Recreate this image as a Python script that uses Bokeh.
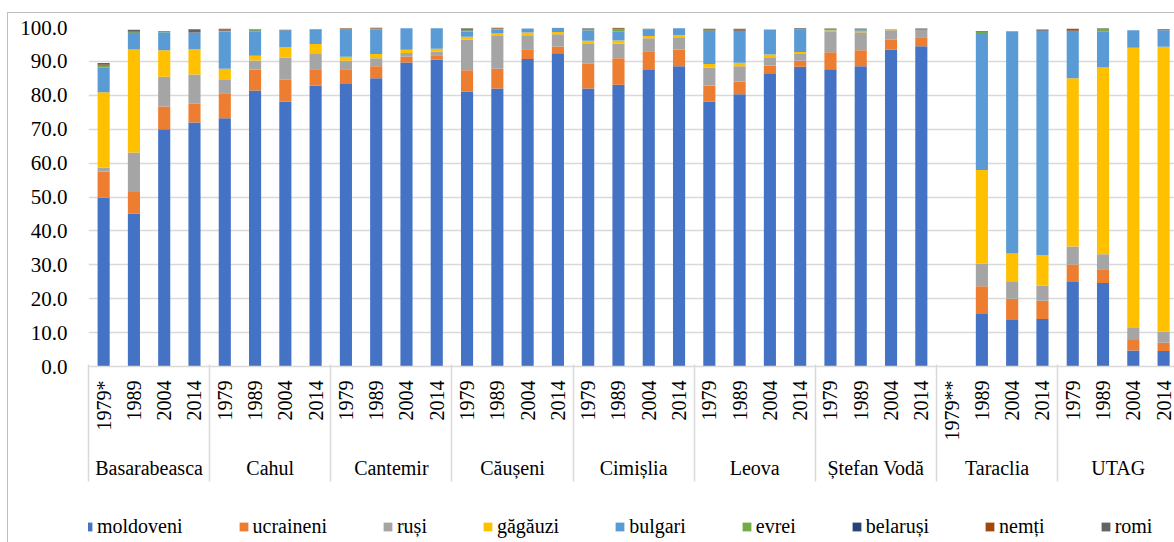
import math
from bokeh.plotting import figure
from bokeh.layouts import column
from bokeh.models import (ColumnDataSource, Range1d, FixedTicker, LinearAxis,
                          Legend, LegendItem, NumeralTickFormatter)
from bokeh.embed import file_html
from bokeh.resources import INLINE

districts = ["Basarabeasca", "Cahul", "Cantemir", "Căușeni", "Cimișlia",
             "Leova", "Ștefan Vodă", "Taraclia", "UTAG"]
years = [
    ["1979*", "1989", "2004", "2014"],
    ["1979", "1989", "2004", "2014"],
    ["1979", "1989", "2004", "2014"],
    ["1979", "1989", "2004", "2014"],
    ["1979", "1989", "2004", "2014"],
    ["1979", "1989", "2004", "2014"],
    ["1979", "1989", "2004", "2014"],
    ["1979**", "1989", "2004", "2014"],
    ["1979", "1989", "2004", "2014"],
]

series_names = ["moldoveni", "ucraineni", "ruși", "găgăuzi", "bulgari",
                "evrei", "belaruși", "nemți", "romi"]
colors = ["#4472C4", "#ED7D31", "#A5A5A5", "#FFC000", "#5B9BD5",
          "#70AD47", "#264478", "#9E480E", "#636363"]

moldoveni = [49.8, 45.1, 70.0, 72.0,  73.2, 81.4, 78.1, 82.8,  83.3, 85.0, 89.7, 90.5,
             81.1, 82.0, 90.7, 92.4,  82.0, 83.1, 87.5, 88.6,  78.2, 80.3, 86.5, 88.4,
             87.7, 88.6, 93.4, 94.5,  0.0, 15.5, 13.7, 14.0,  24.9, 24.6, 4.7, 4.6]
ucraineni = [7.7, 6.4, 6.7, 5.5,  7.4, 6.2, 6.5, 4.9,  4.4, 3.6, 1.7, 1.3,
             6.3, 5.8, 2.9, 2.0,  7.3, 7.8, 5.5, 4.9,  4.7, 3.8, 2.3, 1.8,
             5.0, 4.7, 3.0, 2.6,  0.0, 8.2, 6.3, 5.4,  5.2, 4.1, 3.1, 2.4]
rusi = [1.2, 11.6, 8.8, 8.6,  3.9, 2.7, 6.5, 4.7,  2.5, 2.3, 1.1, 1.1,
        9.0, 9.9, 4.1, 3.6,  5.8, 4.4, 3.8, 3.6,  5.2, 4.5, 2.4, 2.0,
        6.2, 5.3, 2.8, 2.2,  0.0, 6.7, 4.9, 4.5,  5.3, 4.4, 3.8, 3.3]
gagauzi = [22.2, 30.4, 7.8, 7.5,  3.3, 1.4, 3.1, 2.7,  1.2, 1.3, 0.9, 0.8,
           0.9, 0.5, 0.8, 0.7,  1.0, 0.9, 0.7, 0.6,  1.1, 1.0, 0.8, 0.6,
           0.2, 0.2, 0.1, 0.0,  0.0, 27.6, 8.4, 8.9,  49.6, 55.1, 82.4, 84.0]
bulgari = [7.4, 4.6, 5.3, 4.9,  11.0, 7.2, 4.9, 4.2,  7.9, 7.1, 6.4, 6.1,
           1.5, 1.1, 1.2, 1.2,  3.1, 2.7, 2.0, 2.1,  9.5, 9.1, 7.4, 6.7,
           0.1, 0.4, 0.2, 0.0,  0.0, 40.4, 65.6, 66.2,  13.7, 10.7, 5.2, 4.9]
evrei = [0.5, 0.5, 0.1, 0.0,  0.2, 0.3, 0.0, 0.0,  0.1, 0.3, 0.0, 0.0,
         0.4, 0.3, 0.0, 0.0,  0.3, 0.5, 0.0, 0.0,  0.4, 0.3, 0.0, 0.0,
         0.1, 0.2, 0.0, 0.0,  0.0, 0.3, 0.0, 0.0,  0.2, 0.6, 0.0, 0.0]
belarusi = [0.3, 0.2, 0.1, 0.1,  0.1, 0.1, 0.1, 0.1,  0.1, 0.1, 0.0, 0.0,
            0.1, 0.1, 0.0, 0.0,  0.1, 0.1, 0.0, 0.0,  0.1, 0.1, 0.0, 0.0,
            0.1, 0.1, 0.0, 0.1,  0.0, 0.1, 0.0, 0.1,  0.1, 0.1, 0.0, 0.0]
nemti = [0.1, 0.2, 0.0, 0.1,  0.4, 0.1, 0.0, 0.0,  0.2, 0.2, 0.0, 0.0,
         0.3, 0.2, 0.0, 0.0,  0.1, 0.3, 0.0, 0.0,  0.1, 0.4, 0.0, 0.0,
         0.1, 0.1, 0.0, 0.0,  0.0, 0.1, 0.0, 0.0,  0.2, 0.1, 0.0, 0.0]
romi = [0.3, 0.3, 0.1, 0.8,  0.1, 0.1, 0.1, 0.1,  0.1, 0.1, 0.0, 0.0,
        0.2, 0.3, 0.0, 0.0,  0.1, 0.1, 0.1, 0.0,  0.3, 0.1, 0.0, 0.3,
        0.2, 0.1, 0.0, 0.3,  0.0, 0.1, 0.0, 0.3,  0.4, 0.1, 0.0, 0.3]

values = [moldoveni, ucraineni, rusi, gagauzi, bulgari, evrei, belarusi, nemti, romi]
keys = ["s%d" % i for i in range(len(series_names))]

n_per = [len(y) for y in years]
labels_flat = [y for ys in years for y in ys]
n = len(labels_flat)
xs = [i + 0.5 for i in range(n)]

data = {"x": xs}
for k, v in zip(keys, values):
    data[k] = v
source = ColumnDataSource(data)

FONT = "Liberation Serif"
GRID = "#d9d9d9"
X_END = 35.86

p = figure(width=1166, height=499, output_backend="svg", toolbar_location=None,
           x_range=Range1d(0, X_END), y_range=Range1d(0, 100),
           min_border_left=80, min_border_right=0, min_border_top=14,
           min_border_bottom=146, x_axis_type=None)
p.outline_line_color = None
p.background_fill_color = "white"
p.border_fill_color = "white"

p.vbar_stack(keys, x="x", width=0.4, color=colors, source=source, line_color=None)

# y axis
p.yaxis.ticker = FixedTicker(ticks=[0, 10, 20, 30, 40, 50, 60, 70, 80, 90, 100])
p.yaxis.formatter = NumeralTickFormatter(format="0.0")
p.yaxis.axis_line_color = None
p.yaxis.major_tick_line_color = None
p.yaxis.minor_tick_line_color = None
p.yaxis.major_label_standoff = 15
p.yaxis.major_label_text_font = FONT
p.yaxis.major_label_text_font_size = "21px"
p.yaxis.major_label_text_color = "#000000"
p.ygrid.grid_line_color = GRID
p.ygrid.grid_line_width = 1.5
p.xgrid.grid_line_color = None

starts = []
acc = 0
for k in n_per:
    starts.append(acc)
    acc += k

year_axis = LinearAxis(
    ticker=FixedTicker(ticks=xs),
    major_label_overrides={x: lab for x, lab in zip(xs, labels_flat)},
    major_label_orientation=math.pi / 2,
    major_tick_out=0, major_tick_in=0, minor_tick_out=0, minor_tick_in=0,
    axis_line_color=GRID, axis_line_width=1.5,
    major_label_standoff=14,
    major_label_text_font=FONT, major_label_text_font_size="20px",
    major_label_text_color="#000000",
)
p.add_layout(year_axis, "below")

centers = [s + k / 2 for s, k in zip(starts, n_per)]
group_axis = LinearAxis(
    ticker=FixedTicker(ticks=centers),
    major_label_overrides={c: d for c, d in zip(centers, districts)},
    major_label_orientation="horizontal",
    major_tick_out=0, major_tick_in=0, minor_tick_out=0, minor_tick_in=0,
    axis_line_color=None,
    major_label_standoff=13,
    major_label_text_font=FONT, major_label_text_font_size="20px",
    major_label_text_color="#000000",
)
p.add_layout(group_axis, "below")

sep_axis = LinearAxis(
    ticker=FixedTicker(ticks=[], minor_ticks=starts + [acc]),
    major_tick_out=0, major_tick_in=0, minor_tick_out=0, minor_tick_in=117,
    minor_tick_line_color=GRID, minor_tick_line_width=1.5,
    axis_line_color=None, major_label_text_font_size="0px",
    major_label_standoff=0,
)
p.add_layout(sep_axis, "below")

# legend row (separate strip below the chart)
lg = figure(width=1166, height=30, output_backend="svg", toolbar_location=None,
            x_range=Range1d(0, X_END), y_range=Range1d(1000, 1001),
            min_border_left=0, min_border_right=0, min_border_top=0,
            min_border_bottom=0, x_axis_type=None, y_axis_type=None)
lg.outline_line_color = None
lg.xgrid.grid_line_color = None
lg.ygrid.grid_line_color = None
lg_renderers = lg.vbar_stack(keys, x="x", width=0.4, color=colors, source=source,
                             line_color=None)
legend = Legend(
    items=[LegendItem(label=nm, renderers=[r]) for nm, r in zip(series_names, lg_renderers)],
    orientation="horizontal", location=(-6, 4),
    label_text_font=FONT, label_text_font_size="20px", label_text_color="#000000",
    glyph_width=11, glyph_height=11, label_standoff=4, spacing=55,
    padding=0, margin=0, border_line_color=None, background_fill_alpha=0,
)
lg.add_layout(legend)

layout = column(p, lg, spacing=0,
                styles={"border-left": "1px solid #bfbfbf", "border-top": "1px solid #bfbfbf",
                        "margin-left": "7px", "margin-top": "12px"})
open("out.html", "w").write(file_html(layout, INLINE))
